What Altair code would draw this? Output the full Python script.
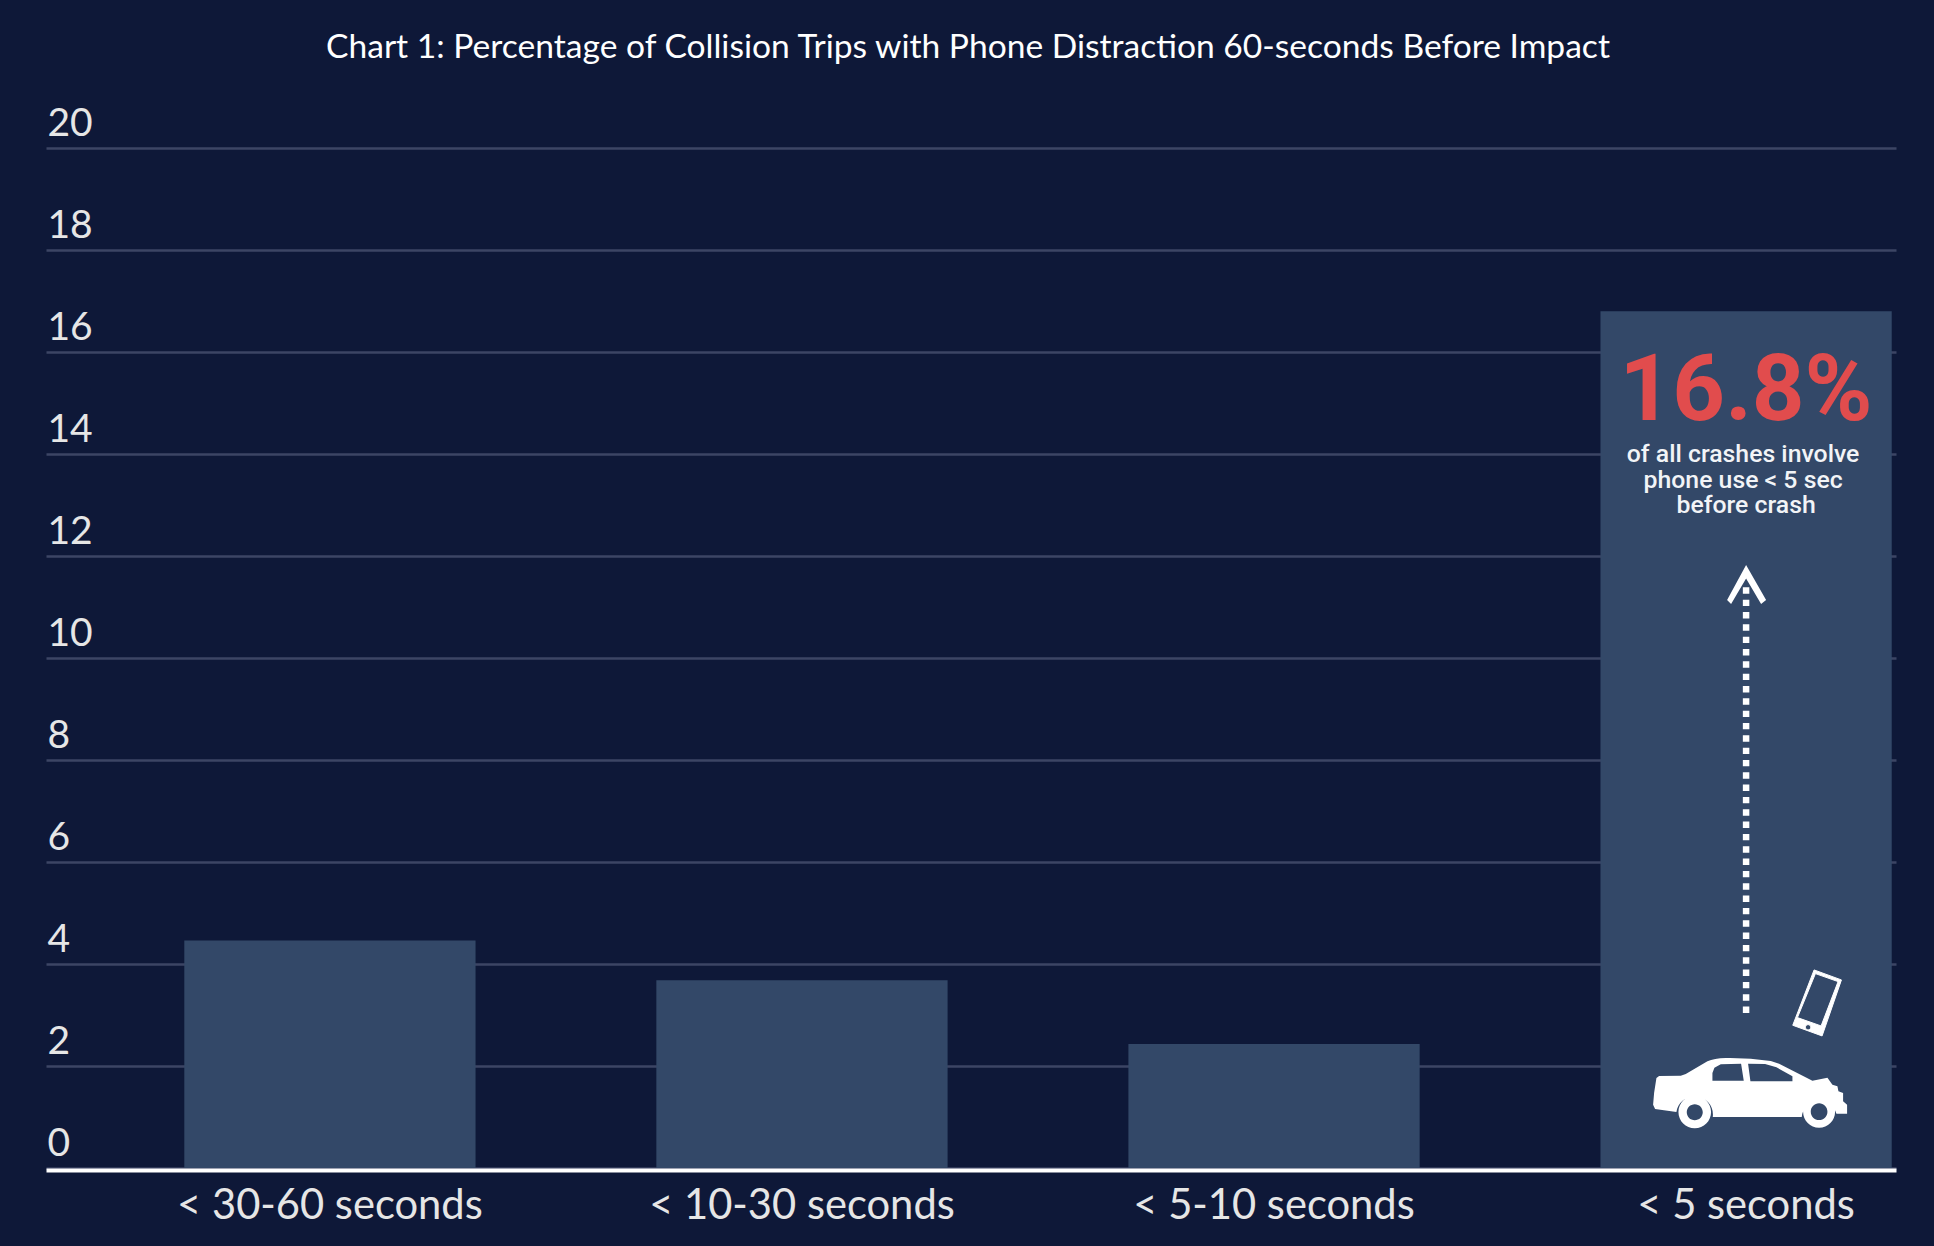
import altair as alt
import pandas as pd

BG = "#0e1838"
BAR = "#334868"
GRID = "#3c4564"
RED = "#e14c4d"

categories = ["< 30-60 seconds", "< 10-30 seconds", "< 5-10 seconds", "< 5 seconds"]
values = [4.46, 3.68, 2.43, 16.8]
ticks = list(range(0, 21, 2))
title_text = "Chart 1: Percentage of Collision Trips with Phone Distraction 60-seconds Before Impact"

callout_cat = categories[-1]
big_label = ["16.8%"]
big_y = [14.66]
note_lines = ["of all crashes involve", "phone use < 5 sec", "before crash"]
note_y = [13.84, 13.33, 12.84]
arrow_from = [3.04]
arrow_to = [11.39]
arrow_tip_y = [11.45]
phone_y = [3.23]
car_y = [1.47]


def pt(x, y, c):
    return f"{x - c[0]} {y - c[1]}"


def poly(points, c):
    return "M" + " L".join(pt(x, y, c) for x, y in points) + " Z"


def circle(cx, cy, r, sweep, c):
    return (f"M{pt(cx - r, cy, c)} A{r} {r} 0 1 {sweep} {pt(cx + r, cy, c)} "
            f"A{r} {r} 0 1 {sweep} {pt(cx - r, cy, c)} Z")


# Icons as glyph outlines, drawn in 3x units around their own centres
cc = (330, 130)
car_path = " ".join([
    "M" + pt(52, 85, cc),
    "L" + pt(60, 79, cc), "L" + pt(125, 78, cc), "L" + pt(140, 73, cc), "L" + pt(205, 35, cc),
    "Q" + pt(225, 26, cc) + " " + pt(260, 25, cc),
    "Q" + pt(330, 24, cc) + " " + pt(395, 34, cc),
    "L" + pt(420, 42, cc), "L" + pt(520, 93, cc), "L" + pt(565, 84, cc), "L" + pt(580, 105, cc),
    "L" + pt(595, 110, cc), "L" + pt(598, 125, cc), "L" + pt(612, 130, cc), "L" + pt(612, 155, cc),
    "L" + pt(624, 165, cc), "L" + pt(624, 192, cc), "L" + pt(592, 192, cc),
    f"A53 53 0 0 0 {pt(488, 202, cc)}",
    "L" + pt(221, 202, cc),
    f"A54 54 0 0 0 {pt(112, 187, cc)}",
    "L" + pt(48, 178, cc), "L" + pt(42, 165, cc), "L" + pt(45, 130, cc), "Z",
    poly([(220, 93), (314, 93), (306, 42), (245, 44), (226, 54), (220, 70)], cc),
    poly([(334, 95), (460, 95), (460, 80), (412, 53), (378, 43), (327, 42)], cc),
    circle(167, 187, 49, 1, cc), circle(167, 188, 24, 0, cc),
    circle(540, 186, 48, 1, cc), circle(540, 186, 25, 0, cc),
])

pc = (775, 190)
phone_path = " ".join([
    poly([(766, 90), (848, 120), (790, 288), (702, 256)], pc),
    poly([(770, 101), (716, 233), (787, 258), (838, 125)], pc),
    circle(748, 262, 8, 0, pc),
])

ac = (95, 85)
chevron_path = poly([(95, 28), (155, 133), (140, 145), (95, 68), (50, 145), (38, 133)], ac)

x_scale = alt.Scale(domain=categories, paddingInner=0.383, paddingOuter=0.151, align=0.97)
y_scale = alt.Scale(domain=[0, 20], nice=False)
x_axis = alt.Axis(
    labelAngle=0, labelFont="Lato", labelFontSize=41.7, labelColor="#e6e6e6", labelLimit=800,
    labelBaseline="alphabetic", labelPadding=48, ticks=False, domainColor="#ffffff",
    domainWidth=4, offset=2, grid=False, labelOverlap=False, zindex=1)
y_axis = alt.Axis(
    values=ticks, orient="left", labelFont="Lato", labelFontSize=39, labelColor="#e6e6e6",
    labelAlign="left", labelBaseline="alphabetic", labelPadding=-1, labelOffset=-13,
    ticks=False, domain=False, grid=True, gridColor=GRID, gridWidth=2.4, labelOverlap=False)
X = alt.X("cat:N", scale=x_scale, axis=x_axis, title=None)
Y = alt.Y("v:Q", scale=y_scale, axis=y_axis, title=None)

bars = alt.Chart(pd.DataFrame({"cat": categories, "v": values})).mark_bar(color=BAR).encode(x=X, y=Y)

big = alt.Chart(pd.DataFrame({"cat": [callout_cat], "v": big_y, "t": big_label})).mark_text(
    font="Roboto", fontSize=92, fontWeight="bold", color=RED, align="center",
    baseline="alphabetic").encode(x=X, y=Y, text="t:N")


def note(lines, ys, dx):
    return alt.Chart(pd.DataFrame({"cat": [callout_cat] * len(lines), "v": ys, "t": lines})).mark_text(
        font="Roboto", fontSize=24.8, fontWeight=500, color="#f2f4f7", align="center",
        baseline="alphabetic", dx=dx).encode(x=X, y=Y, text="t:N")


arrow = alt.Chart(pd.DataFrame({"cat": [callout_cat], "v": arrow_from, "v2": arrow_to})).mark_rule(
    color="#ffffff", strokeWidth=6.5, strokeDash=[6.4, 5.93]).encode(x=X, y=Y, y2="v2:Q")


def icon(path, ys, dx=0, stroke=0):
    return alt.Chart(pd.DataFrame({"cat": [callout_cat], "v": ys})).mark_point(
        shape=path, size=4 / 9, filled=True, fill="#ffffff", opacity=1, xOffset=dx,
        stroke="#ffffff", strokeWidth=stroke, strokeJoin="round").encode(x=X, y=Y)


chart = alt.layer(
    bars, big,
    note(note_lines[:2], note_y[:2], -3), note(note_lines[2:], note_y[2:], 0),
    arrow,
    icon(chevron_path, arrow_tip_y),
    icon(phone_path, phone_y, dx=71, stroke=1),
    icon(car_path, car_y, dx=3),
).properties(
    width=1850, height=1020, background=BG,
    padding={"left": 38, "top": 140, "right": 30, "bottom": 70},
    autosize=alt.AutoSizeParams(type="none"),
    title=alt.TitleParams(title_text, font="Lato", fontSize=33.6, fontWeight="normal", color="#ffffff",
                          anchor="middle", baseline="alphabetic", offset=43, dx=-3, dy=31),
).configure_view(stroke=None)

chart.save("out.html", embed_options={
    "renderer": "svg", "actions": False,
    "defaultStyle": "html,body{background:#0e1838;overflow:hidden}",
})
